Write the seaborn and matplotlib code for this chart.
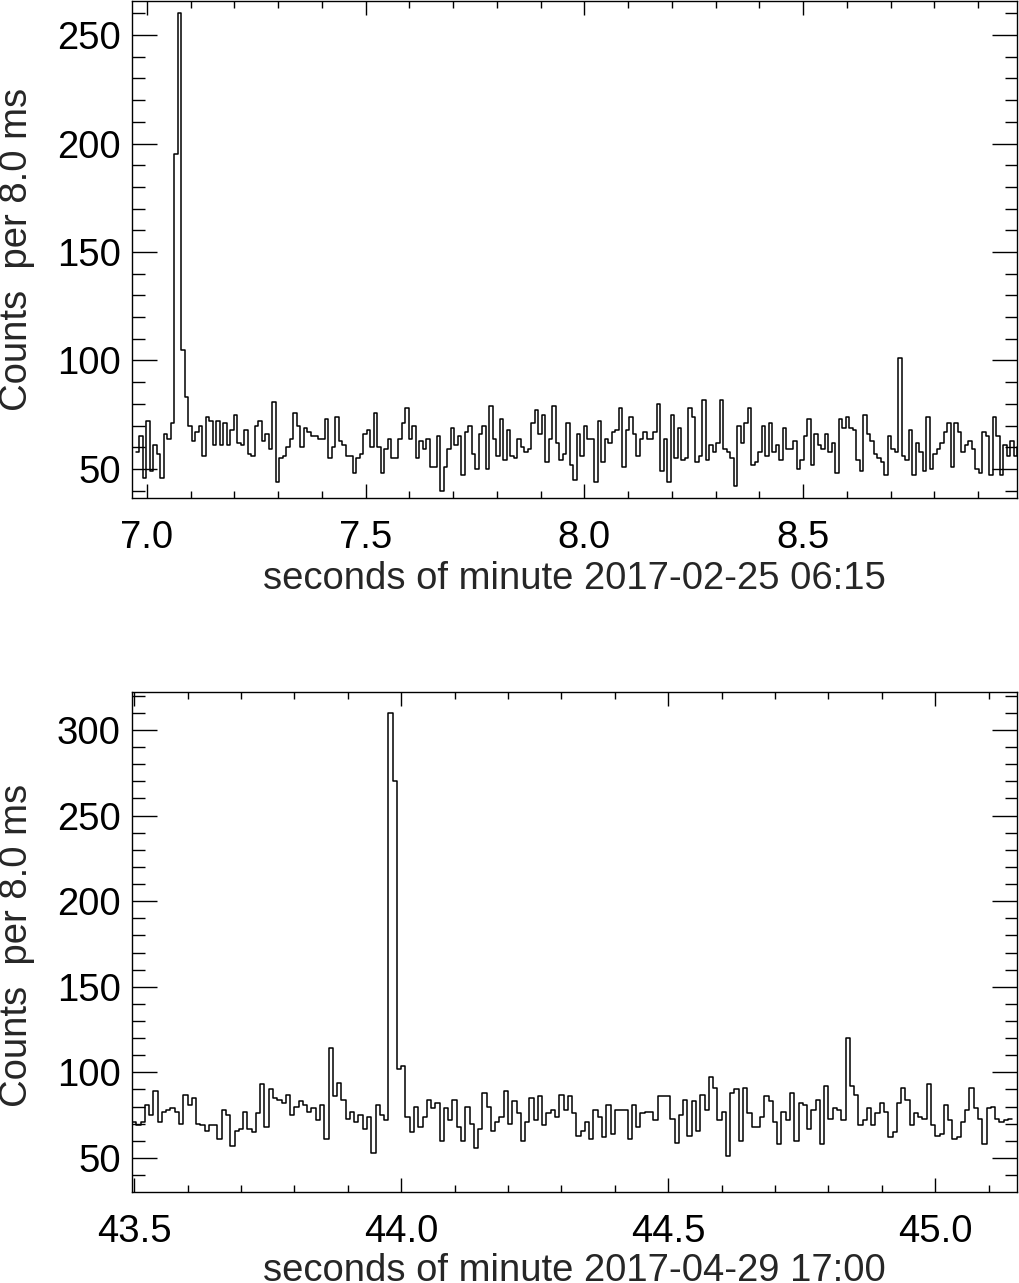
import numpy as np
import pandas as pd
import matplotlib
matplotlib.use("Agg")
import matplotlib.pyplot as plt
from matplotlib.ticker import MultipleLocator
import seaborn as sns

# ---------------- data ----------------
bin_width = 0.008

# Panel 1: 2017-02-25 06:15, counts per 8 ms, first bin starts at 6.974 s
t0_top = 6.974
counts_top = [
    58, 65, 46, 72, 49, 61, 57, 46, 66, 64, 71, 195, 260, 105, 83, 70, 63, 67, 70, 56, 74,
    72, 61, 72, 61, 71, 61, 68, 75, 62, 61, 68, 57, 56, 70, 72, 63, 66, 59, 81, 44, 55,
    56, 60, 64, 76, 70, 60, 69, 67, 65, 65, 64, 64, 73, 55, 60, 74, 63, 61, 56, 56, 48,
    55, 57, 66, 68, 60, 76, 60, 48, 59, 64, 55, 55, 64, 71, 78, 64, 70, 55, 63, 59, 64,
    51, 51, 65, 40, 51, 59, 69, 61, 65, 47, 67, 70, 57, 50, 66, 70, 50, 79, 64, 56, 73,
    54, 68, 56, 55, 64, 60, 58, 59, 71, 77, 66, 75, 53, 64, 79, 62, 54, 57, 71, 52, 45,
    66, 56, 70, 64, 64, 44, 72, 53, 64, 62, 67, 68, 78, 51, 68, 74, 66, 56, 64, 67, 64,
    64, 67, 80, 49, 64, 44, 75, 55, 69, 54, 55, 78, 74, 53, 56, 82, 54, 61, 58, 62, 82,
    59, 58, 55, 42, 70, 62, 71, 78, 52, 53, 58, 70, 56, 71, 58, 61, 54, 69, 59, 59, 63,
    50, 54, 65, 73, 52, 66, 61, 59, 66, 58, 62, 48, 73, 69, 74, 69, 68, 54, 49, 75, 66,
    63, 57, 55, 53, 47, 65, 59, 58, 101, 56, 54, 68, 47, 62, 58, 49, 74, 50, 57, 59, 62,
    67, 71, 51, 71, 67, 58, 61, 63, 59, 50, 48, 67, 65, 47, 74, 65, 47, 61, 56, 63, 56,
    60, 69,
]

# Panel 2: 2017-04-29 17:00, counts per 8 ms, first bin starts at 43.496 s
t0_bot = 43.496
counts_bot = [
    71, 69, 71, 81, 75, 89, 71, 77, 78, 79, 77, 70, 87, 81, 85, 70, 69, 66, 69, 69, 61,
    78, 75, 57, 66, 67, 77, 67, 65, 76, 93, 68, 90, 85,
    84, 82, 87, 75, 80, 83, 81, 77, 79, 72, 81, 61, 114, 86, 94, 84, 73, 77, 71, 75, 67,
    74, 53, 81, 75, 72, 310, 270, 102, 104, 74, 65, 80, 68,
    74, 84, 79, 82, 60, 79, 72, 84, 68, 60, 80, 70, 56, 67, 88, 80, 66, 71, 74, 89, 70,
    83, 76, 60, 71, 85, 72, 86, 69, 76, 78, 74, 87, 78,
    86, 76, 63, 66, 71, 61, 78, 74, 62, 81, 64, 78, 78, 78, 61, 81, 68, 76, 77, 77, 72,
    86, 86, 86, 73, 59, 75, 84, 63, 83, 66, 87, 78, 97,
    91, 72, 77, 51, 88, 90, 60, 91, 76, 68, 68, 74, 86, 83, 71, 58, 77, 72, 88, 60, 82,
    81, 67, 78, 84, 58, 92, 73, 79, 78, 72, 120, 92, 87,
    69, 72, 79, 69, 76, 82, 77, 62, 65, 82, 91, 84, 69, 76, 74, 73, 93, 69, 63, 64, 81,
    72, 61, 62, 71, 78, 91, 79, 73, 58, 79, 80, 73, 71, 72, 73,
]

xlabel_top = "seconds of minute 2017-02-25 06:15"
xlabel_bot = "seconds of minute 2017-04-29 17:00"
ylabel = "Counts  per 8.0 ms"

# ---------------- style ----------------
sns.set_style("ticks")
plt.rcParams["font.family"] = ["Liberation Sans", "DejaVu Sans"]
plt.rcParams["axes.linewidth"] = 1.0

FS = 27.5
W, H = 1020, 1283
fig = plt.figure(figsize=(W / 100, H / 100), dpi=100)


def px_axes(left, top, right, bottom):
    return fig.add_axes([left / W, 1 - bottom / H, (right - left) / W, (bottom - top) / H])


def draw_panel(ax, t0, counts, xlim, ylim, xlabel, xlab_y, ylab_y):
    counts = list(counts)
    edges = t0 + bin_width * np.arange(len(counts) + 1)
    df = pd.DataFrame({"t": edges, "c": counts + [counts[-1]]})
    sns.lineplot(data=df, x="t", y="c", drawstyle="steps-post", color="black",
                 linewidth=1.1, estimator=None, sort=False, ax=ax)
    ax.set_xlim(*xlim)
    ax.set_ylim(*ylim)
    ax.xaxis.set_major_locator(MultipleLocator(0.5))
    ax.xaxis.set_minor_locator(MultipleLocator(0.1))
    ax.yaxis.set_major_locator(MultipleLocator(50))
    ax.yaxis.set_minor_locator(MultipleLocator(10))
    ax.xaxis.set_major_formatter(matplotlib.ticker.FormatStrFormatter("%.1f"))
    ax.tick_params(axis="both", which="both", direction="in", top=True, right=True,
                   colors="black", labelsize=FS, width=1.0)
    ax.tick_params(axis="x", which="major", length=10, pad=15.5)
    ax.tick_params(axis="x", which="minor", length=5)
    ax.tick_params(axis="y", which="major", length=18, pad=8)
    ax.tick_params(axis="y", which="minor", length=9)
    for s in ax.spines.values():
        s.set_visible(True)
        s.set_color("black")
    ax.set_xlabel(xlabel, fontsize=FS)
    ax.set_ylabel(ylabel, fontsize=FS)
    ax.xaxis.set_label_coords(0.5, xlab_y)
    ax.yaxis.set_label_coords(-0.110, ylab_y)


ax1 = px_axes(132, 1, 1017, 498)
draw_panel(ax1, t0_top, counts_top, (6.9658, 8.989), (36.6, 265.7),
           xlabel_top, -0.127, 0.5)

ax2 = px_axes(132, 692, 1017, 1192)
draw_panel(ax2, t0_bot, counts_bot, (43.496, 45.153), (30.1, 322.2),
           xlabel_bot, -0.122, 0.494)

fig.savefig("out.png", dpi=100)
